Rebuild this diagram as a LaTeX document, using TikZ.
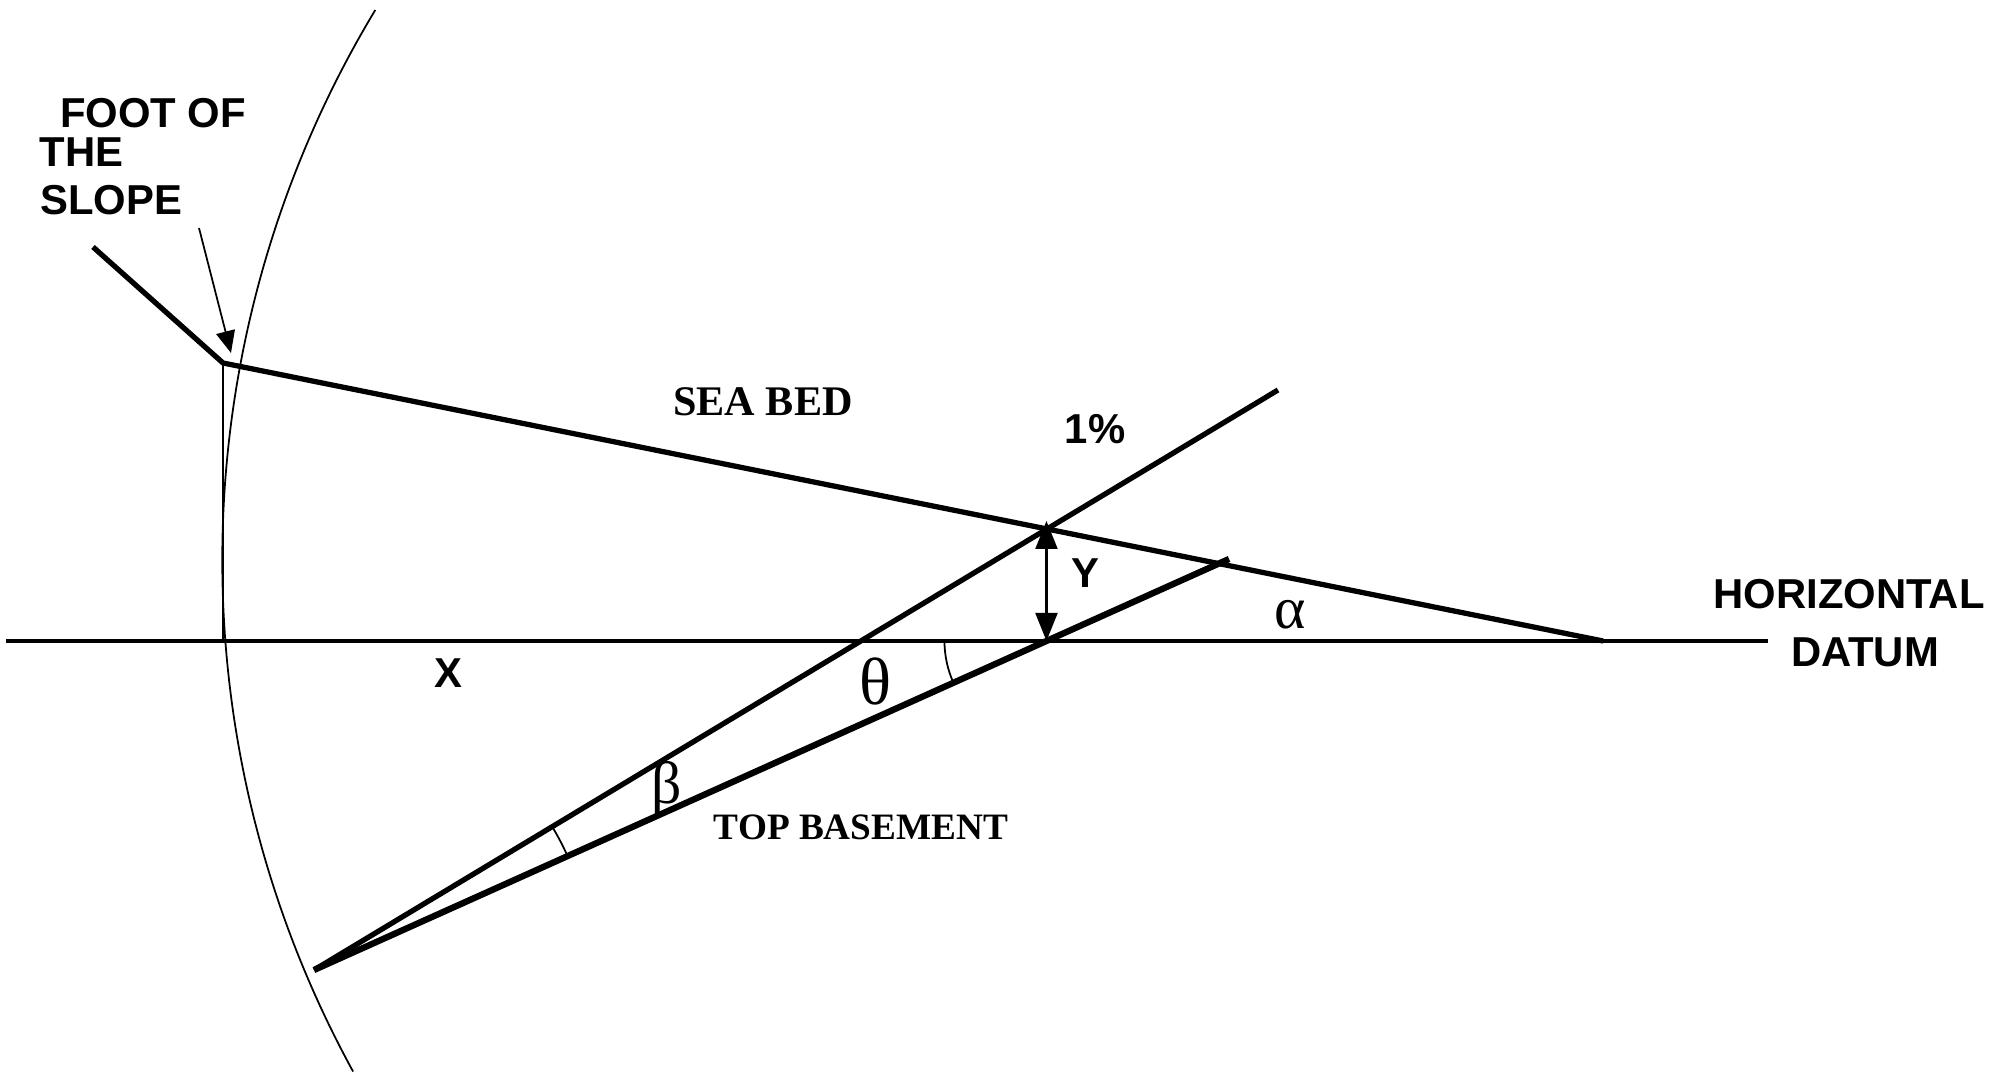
\documentclass[tikz,border=0pt]{standalone}
\usepackage{fontspec}
\setmainfont{Liberation Serif}
\setsansfont{Liberation Sans}
\usetikzlibrary{arrows.meta,calc}
\tikzset{
  heavy/.style={line width=1.5pt, line join=round},
  basement/.style={line width=1.8pt},
  datum/.style={line width=1.0pt},
  thin/.style={line width=0.5pt},
  ar/.style={{Triangle[length=2.8mm,width=2.2mm]}-{Triangle[length=2.8mm,width=2.2mm]}, line width=0.6pt},
  arf/.style={-{Triangle[length=2.2mm,width=1.9mm]}, line width=0.5pt},
  lbl/.style={font=\sffamily\bfseries\fontsize{11.9}{14}\selectfont, inner sep=0pt},
  tlbl/.style={font=\bfseries\fontsize{12}{14}\selectfont, inner sep=0pt},
  grk/.style={font=\fontsize{17}{20}\selectfont, inner sep=0pt},
}

\begin{document}
\begin{tikzpicture}
\useasboundingbox (0,0) rectangle (20.13,10.77);

% ============================ key points ==============================
\coordinate (dl)    at (0.06,4.36);
\coordinate (dr)    at (17.68,4.36);
\coordinate (slope) at (0.93,8.30);
\coordinate (foot)  at (2.23,7.14);
\coordinate (sbend) at (16.03,4.36);
\coordinate (apex)  at (3.14,1.07);
\coordinate (upend) at (12.78,6.87);
\coordinate (bsend) at (12.29,5.18);
\coordinate (ftail) at (1.99,8.49);
\coordinate (ftip)  at (2.31,7.24);
\coordinate (P) at (intersection of foot--sbend and apex--upend);
\coordinate (Q) at (intersection of apex--bsend and dl--dr);

% ============================ lines ===================================
\draw[datum] (dl) -- (dr);
\draw[heavy] (slope) -- (foot) -- (sbend);
\draw[heavy] (apex) -- (upend);
\draw[basement] (apex) -- (bsend);
\draw[thin] (foot) -- (foot |- dl);
\draw[thin] (3.753,10.67) arc[start angle=148.9, end angle=208.7, radius=10.65];
\draw[arf] (ftail) -- (ftip);
\draw[ar] (Q) -- ($(Q |- P)+(0,0.08)$);

% angle marks
\draw[thin] ($(Q)+(180:1.02)$) arc[start angle=180, end angle=204.19, radius=1.02];
\draw[thin] ($(apex)+(24.19:2.78)$) arc[start angle=24.19, end angle=31.03, radius=2.78];

% ============================ labels ==================================
\node[lbl] (foot1) at (1.53,9.64) {FOOT OF};
\node[lbl] (foot2) at (0.815,9.25) {THE};
\node[lbl] (foot3) at (1.11,8.77) {SLOPE};
\node[tlbl] (seabed) at (7.63,6.75) {SEA BED};
\node[lbl] (pct) at (10.95,6.48) {1\%};
\node[lbl] (ylbl) at (10.85,5.04) {Y};
\node[lbl] (xlbl) at (4.48,4.04) {X};
\node[lbl] (hor) at (18.49,4.83) {HORIZONTAL};
\node[lbl] (dat) at (18.65,4.25) {DATUM};
\node[grk, font=\fontsize{19}{22}\selectfont] (theta) at (8.75,3.96) {θ};
\node[grk] (alpha) at (12.90,4.62) {α};
\node[grk] (beta) at (6.67,2.88) {β};
\node[tlbl, font=\bfseries\fontsize{10.6}{13}\selectfont] (topb) at (8.61,2.50) {TOP BASEMENT};

\end{tikzpicture}
\end{document}
